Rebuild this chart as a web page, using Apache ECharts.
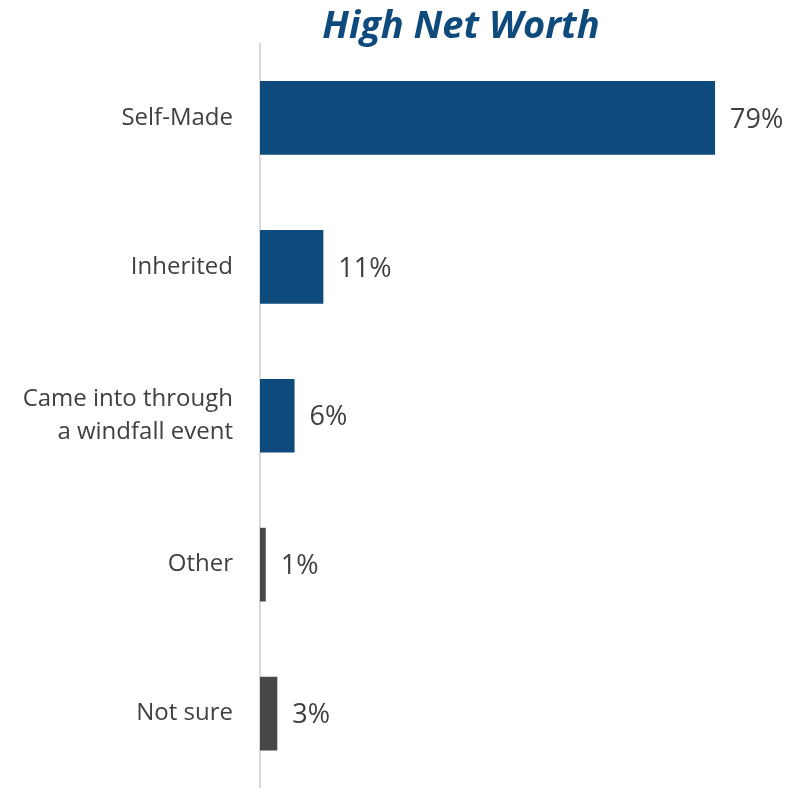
<!DOCTYPE html>
<html><head><meta charset="utf-8">
<script src="https://cdn.jsdelivr.net/npm/echarts@6/dist/echarts.min.js"></script>
<style>html,body{margin:0;padding:0;background:#fff}#c{width:788px;height:788px}</style>
</head><body><div id="c"></div>
<script>
const categories = ["Self-Made", "Inherited", "Came into through\na windfall event", "Other", "Not sure"];
const values = [79, 11, 6, 1, 3];
const barColors = ["#0F4A7C", "#0F4A7C", "#0F4A7C", "#474747", "#474747"];
const titleText = "High Net Worth";

const chart = echarts.init(document.getElementById('c'), null, {renderer: 'canvas'});
chart.setOption({
  animation: false,
  backgroundColor: '#ffffff',
  title: {
    text: titleText, left: 456, top: 3, textAlign: 'center',
    textStyle: {fontFamily: 'Open Sans', fontStyle: 'italic', fontWeight: 'bold', fontSize: 38, color: '#0F4A7C'}
  },
  grid: {left: 260, top: 43.5, right: 9.6, bottom: -5, containLabel: false},
  xAxis: {type: 'value', min: 0, max: 90, show: false},
  yAxis: {
    type: 'category', data: categories, inverse: true,
    axisLine: {show: true, lineStyle: {color: '#D9D9D9', width: 2}},
    axisTick: {show: false},
    axisLabel: {fontFamily: 'Open Sans', fontSize: 24, color: '#404040', margin: 27, lineHeight: 33, align: 'right', padding: [3, 0, 0, 0]},
  },
  series: [{
    type: 'bar', barWidth: '49.5%',
    data: values.map((v, i) => ({value: v, itemStyle: {color: barColors[i]}})),
    label: {show: true, position: 'right', distance: 15, offset: [0, 2], formatter: '{c}%', fontFamily: 'Open Sans', fontSize: 27, color: '#404040'}
  }]
});
</script></body></html>
